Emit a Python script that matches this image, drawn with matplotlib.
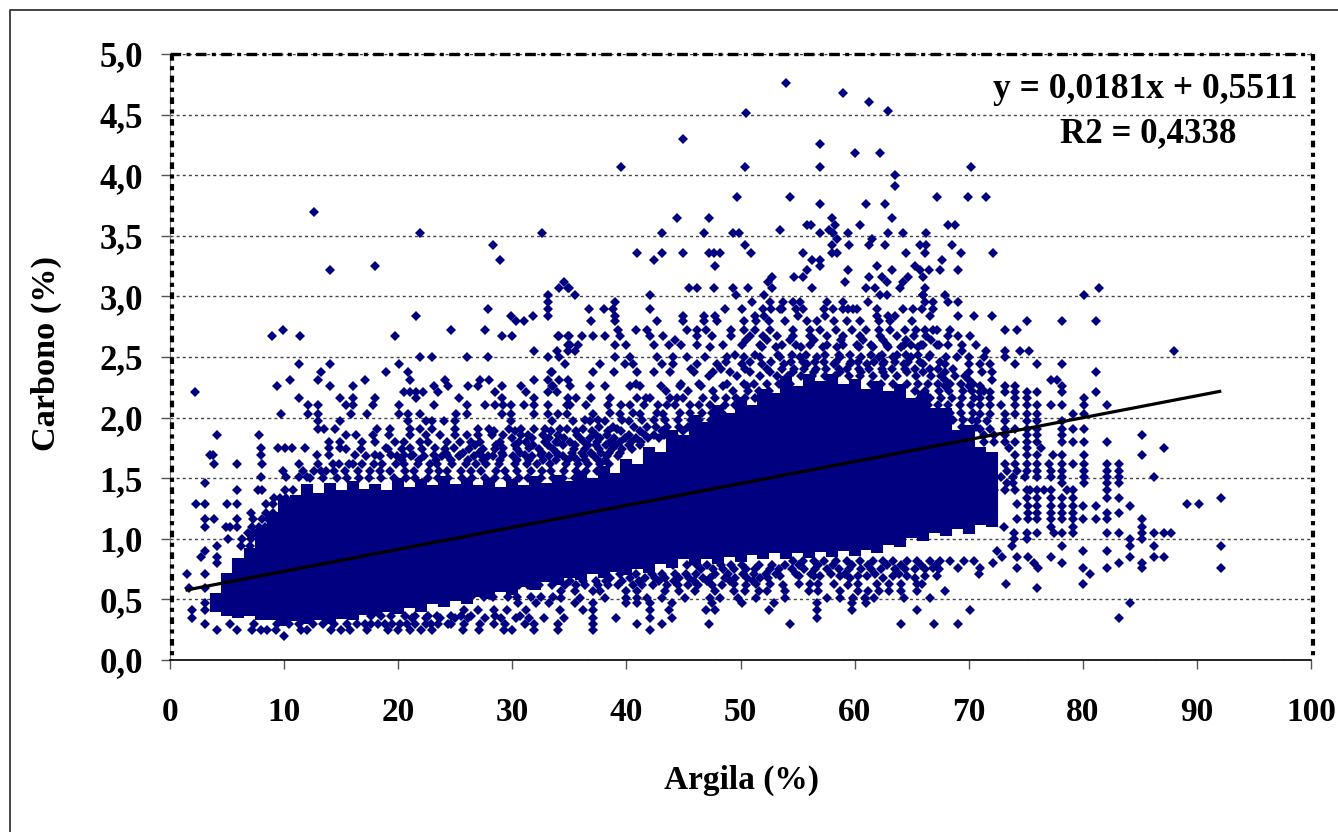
# coding: utf-8
import matplotlib
matplotlib.use("Agg")
import matplotlib.pyplot as plt
from matplotlib.lines import Line2D

# values
x_ticks = [0, 10, 20, 30, 40, 50, 60, 70, 80, 90, 100]
y_ticks = [0.0, 0.5, 1.0, 1.5, 2.0, 2.5, 3.0, 3.5, 4.0, 4.5, 5.0]
y_labels = ["0,0", "0,5", "1,0", "1,5", "2,0", "2,5", "3,0", "3,5", "4,0", "4,5", "5,0"]

slope = 0.0181
intercept = 0.5511
trend_x = [1.5, 92.0]

# the mass of overlapping points is too dense to pick apart,
# so it is kept as the solid low/high range seen at each clay value
core_clay = list(range(4, 73))
core_low = [.40, .36, .35, .36, .33, .33, .28, .32, .30, .33, .30, .34, .33, .37, .36, .40, .38, .43, .40, .46,
            .44, .49, .46, .52, .50, .56, .54, .60, .58, .64, .62, .68, .66, .71, .68, .73, .70, .75, .72, .79,
            .76, .83, .78, .83, .79, .85, .81, .87, .83, .88, .83, .88, .84, .89, .85, .90, .86, .91, .88, .95,
            .93, 1.01, .98, 1.05, 1.02, 1.08, 1.04, 1.11, 1.10]
core_high = [.55, .72, .84, .92, 1.08, 1.22, 1.33, 1.36, 1.45, 1.38, 1.46, 1.40, 1.48, 1.41, 1.45, 1.40, 1.50, 1.43, 1.49, 1.44,
             1.52, 1.45, 1.50, 1.44, 1.50, 1.43, 1.49, 1.44, 1.52, 1.46, 1.53, 1.48, 1.56, 1.50, 1.60, 1.54, 1.66, 1.62, 1.76, 1.72,
             1.90, 1.86, 2.02, 1.96, 2.10, 2.04, 2.17, 2.10, 2.24, 2.20, 2.34, 2.26, 2.36, 2.30, 2.36, 2.28, 2.32, 2.24, 2.30, 2.22,
             2.28, 2.16, 2.22, 2.08, 2.08, 1.90, 1.94, 1.76, 1.72]

# scattered points above the mass: carbon value, then the clay values on that row
upper_rows = [
    (4.76, [54.0]), (4.68, [59.0]), (4.60, [61.3]), (4.53, [62.9]), (4.51, [50.5]), (4.30, [45.0]), (4.26, [57.0]),
    (4.18, [60.0, 62.2]), (4.07, [39.5, 50.4, 57.0, 70.2]), (4.00, [63.5]), (3.91, [63.5]),
    (3.82, [49.7, 54.3, 67.2, 69.9, 71.5]), (3.76, [57.0, 61.0, 62.7]), (3.70, [12.6]), (3.65, [44.4, 47.2, 58.0, 63.3]),
    (3.59, [55.8, 56.2, 58.3, 60.5, 68.2, 68.8]), (3.55, [53.5, 57.8]),
    (3.52, [21.9, 32.6, 43.1, 46.8, 49.3, 49.9, 57.0, 58.1, 59.4, 62.9, 64.2, 66.3]),
    (3.47, [61.5, 58.5]), (3.42, [28.3, 50.4, 58.0, 59.5, 61.3, 62.7, 65.7, 66.3, 68.5]),
    (3.36, [40.9, 43.1, 45.0, 47.2, 47.7, 48.2, 50.9, 55.5, 58.0, 58.5, 64.5, 66.2, 69.3, 72.1]),
    (3.30, [28.9, 42.4, 56.3, 57.0, 67.7]), (3.25, [18.0, 47.8, 57.0, 62.0, 65.3]), (3.22, [14.0, 55.8, 59.4, 63.3, 65.7, 66.5, 69.1, 67.5]),
    (3.16, [52.8, 54.7, 55.5, 61.3, 62.4, 64.7, 66.0]), (3.12, [34.5, 52.4, 59.2, 62.8, 64.2]),
    (3.07, [34.1, 34.9, 35.0, 45.5, 46.2, 47.7, 49.3, 50.7, 52.8, 56.3, 61.0, 61.8, 64.0, 66.2, 81.4]),
    (3.01, [33.1, 35.5, 42.1, 49.6, 52.1, 62.2, 62.8, 66.0, 67.9, 80.1, 66.0]),
    (2.95, [33.1, 39.0, 51.0, 52.6, 53.7, 54.6, 55.2, 57.6, 59.0, 61.2, 66.2, 66.9, 68.2, 69.1]),
    (2.90, [27.9, 33.1, 36.7, 38.0, 38.8, 42.1, 48.6, 50.1, 52.0, 52.7, 53.5, 53.6, 54.9, 55.5, 57.3, 58.1, 59.0, 59.4, 59.9, 60.2, 62.0, 64.2, 65.1, 65.9, 66.9]),
    (2.84, [21.6, 29.9, 31.8, 33.1, 39.0, 45.0, 46.8, 47.8, 51.3, 52.1, 55.0, 57.4, 62.0, 62.9, 63.5, 66.6, 69.1, 70.5, 72.0]),
    (2.80, [30.3, 31.0, 36.9, 39.0, 42.7, 45.0, 46.8, 47.9, 50.3, 51.4, 52.5, 53.9, 55.8, 56.7, 58.2, 59.3, 60.5, 62.1, 63.1, 65.0, 75.1, 78.2, 81.2]),
    (2.72, [9.9, 24.6, 27.6, 39.3, 40.8, 41.8, 45.3, 46.2, 47.0, 49.2, 50.3, 51.3, 52.6, 54.6, 56.1, 57.0, 58.4, 59.8, 61.0, 62.1, 63.1, 64.4, 66.9, 73.2, 74.2, 65.4, 66.2, 67.2, 68.4]),
    (2.67, [8.9, 11.4, 19.7, 29.1, 30.0, 34.0, 34.1, 34.9, 35.0, 36.1, 37.1, 38.1, 39.4, 42.1, 43.2, 46.2, 47.5, 49.2, 50.8, 52.0, 53.2, 54.6, 56.1, 57.6, 59.0, 60.5, 62.2, 63.7, 65.2, 66.3, 68.2, 69.1, 70.1]),
    (2.60, [34.9, 35.1, 35.8, 39.0, 40.0, 42.4, 43.7, 44.8, 46.2, 48.5, 50.1, 51.7, 53.6, 54.9, 56.1, 57.6, 59.0, 60.2, 61.4, 62.8, 64.3, 64.9, 66.0, 67.2, 68.2, 69.4, 70.6, 65.8, 67.4]),
    (2.55, [31.9, 33.9, 34.9, 35.5, 71.5, 69.4, 73.2, 75.3, 74.5, 88.0]),
    (2.50, [21.9, 23.0, 26.0, 27.9, 33.1, 34.1, 39.0, 40.3, 42.7, 44.1, 45.3, 46.9, 48.8, 50.3, 51.7, 53.5, 55.2, 56.7, 58.7, 60.6, 62.1, 63.4, 64.9, 66.5, 68.0, 69.0, 70.0, 71.3, 73.2]),
    (2.44, [11.3, 14.0, 20.1, 34.6, 37.7, 39.9, 40.6, 43.1, 44.1, 46.2, 47.9, 50.1, 51.9, 53.8, 55.8, 58.2, 59.6, 61.1, 62.5, 64.3, 66.0, 67.9, 70.0, 71.0, 71.9, 74.1, 76.0, 78.2]),
    (2.38, [13.2, 18.9, 20.9, 33.5, 33.4, 37.1, 38.9, 40.9, 42.4, 43.8, 45.9, 47.6, 49.1, 50.8, 52.6, 54.6, 56.4, 58.7, 60.6, 62.5, 64.6, 66.0, 67.9, 70.0, 71.2, 72.0, 81.2]),
    (2.31, [10.5, 13.0, 17.1, 21.0, 24.1, 27.2, 28.0, 31.9, 33.1, 34.1, 34.9, 72.0, 70.0, 67.9, 77.2, 77.7]),
    (2.26, [9.4, 14.0, 16.0, 23.1, 24.4, 26.1, 27.0, 29.1, 30.8, 33.5, 33.6, 35.1, 36.8, 38.1, 40.3, 41.2, 43.0, 44.7, 46.5, 48.5, 50.6, 67.9, 70.0, 71.0, 73.2, 74.1, 78.2]),
    (2.21, [2.2, 20.5, 21.0, 21.6, 22.2, 23.5, 28.5, 31.2, 33.1, 33.9, 71.0, 71.9, 73.2, 74.1, 75.1, 76.0, 78.2, 81.2]),
    (2.16, [11.3, 14.9, 16.0, 18.0, 21.6, 25.3, 29.1, 31.9, 34.9, 35.6, 36.9, 38.6, 40.9, 42.1, 43.8, 45.0, 71.0, 71.9, 74.1, 75.1, 80.1]),
    (2.10, [12.1, 13.0, 15.4, 16.0, 17.8, 20.1, 23.1, 26.0, 27.6, 28.5, 29.2, 29.9, 31.0, 31.9, 33.1, 34.8, 35.1, 36.5, 38.4, 40.3, 42.8, 44.3, 45.6, 71.0, 71.9, 72.8, 74.1, 75.1, 76.0, 77.2, 78.2, 80.1, 82.1]),
    (2.03, [9.7, 12.1, 13.0, 15.9, 17.3, 20.1, 20.9, 21.9, 25.1, 26.0, 29.1, 29.9, 31.9, 33.1, 34.0, 34.8, 37.1, 39.4, 41.2, 43.2, 71.0, 71.9, 73.2, 74.1, 75.1, 76.0, 79.1, 80.1]),
    (1.97, [13.0, 14.9, 20.9, 22.4, 23.0, 24.0, 25.0, 29.9, 33.5, 35.3, 36.8, 38.1, 40.2, 70.7, 71.6, 73.2, 75.1, 76.0, 78.2]),
    (1.91, [13.0, 13.5, 14.5, 18.1, 19.3, 21.0, 21.9, 23.0, 25.0, 27.0, 28.0, 29.7, 30.8, 31.9, 32.9, 34.8, 34.2, 36.2, 39.2, 71.0, 71.9, 73.2, 74.1, 75.1, 76.0, 78.2, 79.1, 80.1]),
    (1.86, [4.15, 7.8, 16.3, 15.4, 17.8, 19.2, 21.0, 23.7, 25.0, 26.0, 27.0, 29.2, 30.8, 32.7, 34.0, 85.2, 71.3, 72.2, 73.2, 75.1, 76.0, 78.2]),
    (1.80, [13.9, 14.9, 18.0, 19.7, 20.5, 21.9, 24.3, 25.4, 27.2, 28.9, 32.9, 34.0, 71.3, 72.2, 73.2, 74.1, 75.1, 76.0, 78.2, 79.1, 80.1, 82.1]),
    (1.75, [8.0, 9.5, 10.1, 10.7, 11.8, 13.9, 14.9, 18.9, 21.0, 23.2, 24.9, 29.2, 31.5, 76.3, 75.1, 73.5, 87.1]),
    (1.69, [3.5, 3.8, 8.0, 12.9, 13.9, 16.2, 18.0, 19.4, 20.5, 21.3, 23.1, 24.3, 25.4, 27.3, 29.2, 31.1, 32.5, 34.0, 74.1, 75.1, 76.0, 78.2, 80.1, 85.2, 77.4]),
    (1.62, [3.9, 5.9, 8.1, 11.3, 13.0, 14.3, 16.0, 73.2, 74.1, 75.1, 76.0, 77.0, 78.2, 79.1, 80.1, 82.1, 83.2]),
    (1.56, [9.9, 11.7, 12.6, 13.7, 73.4, 74.2, 75.1, 76.0, 77.2, 78.2, 80.1, 82.1, 83.2]),
    (1.51, [8.0, 10.2, 11.3, 12.0, 71.9, 72.8, 73.9, 74.9, 76.0, 77.2, 78.2, 80.1, 83.2, 86.2, 82.1]),
    (1.46, [3.1, 73.4, 73.9, 78.2, 80.1, 83.2, 82.1]),
    (1.40, [5.9, 7.7, 8.1, 10.1, 10.8, 72.2, 73.2, 74.1, 75.1, 75.4, 76.0, 76.6, 77.2, 78.6, 79.1, 82.1]),
    (1.34, [9.1, 9.6, 10.2, 75.1, 76.0, 77.2, 78.2, 79.1, 82.1, 92.1, 83.2]),
    (1.29, [2.3, 3.1, 5.0, 5.9, 8.4, 9.0, 89.1, 90.2, 74.2]),
    (1.27, [75.2, 76.0, 77.2, 78.2, 79.1, 80.0, 81.2, 84.1]),
    (1.21, [7.1, 8.4, 9.0, 82.1, 83.2, 75.2, 76.0, 77.2, 78.2, 79.1]),
    (1.16, [3.1, 3.9, 5.9, 7.3, 8.1, 8.6, 74.2, 75.2, 76.0, 77.2, 78.2, 79.1, 80.0, 81.2, 82.1, 85.2]),
    (1.10, [3.1, 4.9, 5.3, 5.9, 7.2, 7.8, 8.3, 77.2, 79.1, 73.1, 85.2]),
    (1.05, [6.8, 7.4, 75.1, 76.0, 77.5, 78.2, 79.1, 82.1, 83.2, 85.2, 86.2, 87.1, 87.7, 74.0]),
]

# the textured band between the solid mass and the scattered points
fringe_rows = [
    (2.64, [44.3, 50.5, 52.3, 54.3, 56.4, 58.8, 60.7, 62.5, 64.5, 66.7]),
    (2.58, [47.3, 51.9, 53.1, 55.3, 57.2, 58.5, 60.4, 61.6, 62.9, 64.1, 65.6]),
    (2.52, [49.5, 51.3, 53.3, 54.5, 55.7, 57.4, 58.6, 59.6, 61.4, 62.4, 63.7, 64.5, 65.6, 66.6]),
    (2.46, [48.7, 50.8, 52.7, 54.4, 55.5, 56.5, 57.3, 58.4, 59.7, 60.3, 61.7, 62.6, 63.5, 64.7, 65.7, 67.5]),
    (2.40, [45.7, 48.3, 50.4, 52.3, 53.6, 54.7, 55.6, 56.6, 57.5, 58.6, 59.3, 60.4, 61.3, 62.4, 63.3, 64.4, 65.3, 66.6, 67.3, 68.6]),
    (2.34, [47.2, 49.7, 51.7, 53.2, 54.2, 55.3, 56.3, 57.4, 58.3, 59.5, 60.5, 61.6, 62.7, 63.7, 65.4, 66.7, 67.6, 68.8, 69.7]),
    (2.28, [40.8, 44.8, 46.4, 48.8, 50.3, 51.2, 52.3, 53.4, 54.3, 61.4, 62.3, 63.4, 64.6, 65.6, 66.4, 67.3, 68.4, 69.3, 70.4]),
    (2.22, [43.5, 45.4, 47.6, 49.3, 50.7, 51.6, 52.5, 65.3, 66.2, 67.4, 68.3, 69.5, 70.3, 71.3]),
    (2.16, [41.7, 44.4, 46.7, 47.8, 48.7, 49.6, 50.4, 51.3, 65.7, 66.6, 67.6, 68.5, 69.4, 70.5]),
    (2.10, [39.5, 41.5, 43.6, 46.4, 47.3, 48.6, 49.5, 66.4, 67.3, 68.2, 69.2, 70.2]),
    (2.04, [38.6, 40.6, 42.7, 44.7, 45.6, 46.6, 47.5, 48.4, 67.5, 68.4, 69.3, 70.4]),
    (1.98, [36.4, 37.5, 39.6, 41.4, 42.4, 43.4, 44.5, 45.7, 46.4, 47.4, 68.6, 69.5, 70.3]),
    (1.92, [37.6, 38.8, 40.7, 41.8, 42.6, 43.6, 44.6, 45.4, 69.4, 70.6]),
    (1.89, [28.4, 30.2, 33.4, 35.6, 37.0, 38.4, 39.5, 41.2, 43.1, 45.0]),
    (1.86, [22.4, 28.2, 31.4, 35.7, 37.3, 38.3, 40.2, 41.6, 42.4, 43.3, 44.2]),
    (1.83, [30.0, 31.7, 33.2, 34.5, 35.9, 36.8, 37.7, 38.9, 39.9, 40.8, 41.9, 42.9, 43.8]),
    (1.80, [16.8, 22.6, 26.4, 30.6, 31.2, 33.8, 35.1, 36.3, 37.4, 38.6, 39.4, 40.4, 41.3]),
    (1.77, [26.7, 28.6, 30.2, 31.8, 33.1, 34.4, 35.5, 36.6, 37.3, 38.2, 39.1, 40.2, 41.2]),
    (1.74, [15.4, 16.7, 19.1, 20.3, 22.1, 24.1, 26.2, 27.4, 28.5, 30.4, 32.3, 33.6, 35.4, 36.4, 37.6, 38.7, 39.6, 40.5]),
    (1.71, [24.2, 25.7, 27.1, 29.1, 30.7, 32.6, 33.9, 35.2, 36.1, 36.9, 37.8, 38.5, 39.4]),
    (1.68, [17.2, 18.4, 19.9, 21.1, 22.3, 23.8, 25.3, 26.6, 27.9, 28.3, 30.1, 31.7, 33.2, 34.4, 35.3, 36.3, 37.2, 38.3, 39.3]),
    (1.65, [20.3, 21.8, 23.3, 24.6, 26.1, 27.4, 28.9, 30.4, 31.5, 32.7, 33.8, 34.9, 35.7, 36.4, 37.5, 38.1]),
    (1.62, [14.8, 15.7, 16.8, 17.9, 18.6, 19.8, 20.5, 21.7, 22.8, 23.4, 24.7, 25.9, 26.8, 27.7, 28.8, 30.2, 31.3, 32.2, 33.3, 34.7, 35.8, 36.6, 37.7, 38.5]),
    (1.56, [13.2, 14.4, 15.3, 16.5, 17.5, 18.4, 19.3, 20.6, 21.4, 22.7, 23.6, 24.3, 25.5, 26.4, 27.3, 28.6, 29.4, 30.4, 31.6, 32.6, 33.4, 34.5, 35.6, 36.5, 37.4]),
    (1.50, [12.3, 13.4, 14.6, 15.5, 16.6, 17.4, 18.5, 19.6, 20.7, 21.5, 22.6, 23.5, 24.4, 25.6, 26.5, 27.6, 28.5, 29.5, 30.6, 31.4, 32.5, 33.6, 34.4, 35.5]),
    (0.82, [54.6, 55.5, 56.4, 57.3, 58.4, 59.3, 60.5, 61.6, 62.5, 63.4, 64.6, 65.5, 66.6, 67.5, 68.4, 69.6, 70.5]),
    (0.78, [44.1, 45.3, 46.2, 47.1, 48.3, 49.2, 50.1, 51.6, 52.8, 53.9, 55.1, 56.8, 58.1, 59.8, 61.2, 62.8, 64.1, 65.8, 67.1]),
    (0.75, [46.5, 47.6, 48.5, 49.4, 50.5, 51.3, 52.6, 53.4, 54.5, 55.6, 56.5, 57.6, 58.6, 59.5, 60.6, 61.4, 62.3, 63.5, 64.4, 65.3, 66.2, 67.4]),
    (0.71, [39.4, 40.8, 42.2, 43.1, 44.3, 45.2, 46.1, 47.8, 48.9, 50.2, 51.2, 52.2, 53.1, 54.9, 56.2, 57.9, 59.2, 61.8, 63.9]),
    (0.68, [38.6, 40.3, 41.6, 42.5, 43.4, 44.6, 45.5, 46.7, 47.3, 48.6, 49.5, 50.6, 51.7, 52.4, 59.6, 62.5, 65.3]),
    (0.65, [33.6, 35.1, 36.2, 37.3, 38.2, 39.6, 41.1, 42.9, 44.2, 45.9, 47.1, 49.1, 51.1]),
    (0.62, [29.2, 30.6, 31.4, 32.3, 33.5, 34.6, 35.6, 36.4, 37.5, 38.4, 39.3, 40.6, 41.4, 42.3, 43.6, 44.5, 45.4, 46.3, 47.5, 48.4, 50.5, 53.7, 59.4]),
    (0.52, [26.4, 27.5, 28.3, 29.6, 30.4, 31.6, 32.5, 33.6]),
    (0.36, [17.6, 18.5, 19.4, 20.6, 21.5, 22.6, 23.4, 24.6, 25.5, 26.4, 28.5, 30.7]),
    (0.30, [10.4, 11.3, 12.5, 13.4, 14.4, 15.5, 16.4, 17.1, 18.2, 19.5, 20.2, 21.5, 22.4, 23.5, 24.4]),
]

# scattered points below the mass
lower_rows = [
    (1.00, [5.1, 6.3, 7.1, 84.1, 85.2, 75.1, 74.0]), (0.94, [6.2, 7.0, 78.2, 84.1, 86.2, 92.1, 73.8, 4.15]), (0.90, [80.0, 82.1, 3.1, 72.5]),
    (0.85, [2.7, 4.15, 87.1, 84.1, 72.9, 74.2, 75.2, 77.2, 86.2]), (0.80, [4.15, 72.1, 75.7, 78.2, 83.2, 85.2]),
    (0.76, [92.1, 85.2, 80.0, 74.2, 76.1, 82.1, 66.9, 69.1, 71.0]), (0.71, [1.5, 3.1, 80.6, 70.9]),
    (0.69, [53.5, 55.1, 56.4, 57.0, 58.7, 60.3, 61.1, 63.4, 64.6, 66.2, 67.2]),
    (0.63, [49.4, 51.4, 52.6, 55.1, 56.1, 56.8, 58.2, 60.3, 62.0, 63.0, 64.1, 65.5, 65.9, 73.3, 80.0]),
    (0.59, [1.7, 3.1, 76.0]),
    (0.57, [34.3, 35.5, 37.1, 37.7, 40.0, 40.9, 43.4, 44.6, 46.0, 47.8, 49.4, 50.4, 51.6, 52.3, 53.9, 56.0, 56.8, 58.7, 60.3, 61.2, 62.1, 63.0, 64.1, 65.5, 67.9]),
    (0.51, [34.3, 35.9, 38.1, 40.0, 40.9, 41.8, 43.1, 45.1, 47.3, 48.2, 49.8, 51.4, 53.9, 57.6, 58.7, 59.9, 60.9, 61.7, 64.3, 66.6]),
    (0.47, [3.1, 30.5, 32.1, 33.2, 35.5, 37.1, 40.0, 40.9, 42.1, 44.0, 47.5, 50.1, 52.9, 56.7, 59.8, 61.0, 84.1]),
    (0.41, [1.9, 3.1, 25.8, 27.0, 28.4, 29.5, 31.2, 34.2, 36.2, 37.1, 42.1, 43.7, 47.0, 47.8, 52.5, 56.7, 59.8, 65.5, 70.1]),
    (0.35, [1.9, 21.2, 22.4, 23.7, 25.0, 26.1, 27.6, 29.0, 30.3, 31.5, 32.8, 34.5, 37.1, 39.1, 42.1, 44.0, 56.7, 83.2]),
    (0.30, [3.1, 5.3, 7.4, 9.4, 17.6, 18.8, 20.8, 22.9, 24.6, 25.8, 27.2, 28.4, 29.4, 31.1, 31.9, 34.0, 37.1, 40.9, 43.1, 47.2, 54.3, 64.1, 67.0, 69.1]),
    (0.25, [4.1, 5.9, 7.2, 8.0, 8.5, 9.3, 11.5, 12.0, 14.1, 15.0, 15.8, 17.3, 19.1, 20.0, 21.0, 22.0, 23.0, 25.7, 27.1, 29.3, 30.0, 31.9, 34.0, 37.1, 42.1]),
    (0.20, [10.0]),
]

navy = "#000080"


def main():
    fig = plt.figure(figsize=(13.38, 8.32), dpi=100)
    plt.rcParams["font.family"] = ["Liberation Serif", "DejaVu Serif"]
    ax = fig.add_axes([170 / 1338, 1 - 660 / 832, 1141 / 1338, 606 / 832])

    # outer chart frame, open at right and bottom
    fig.add_artist(Line2D([9.5 / 1338, 9.5 / 1338, 1], [0, 1 - 9.5 / 832, 1 - 9.5 / 832],
                          color="#444444", lw=1.4, transform=fig.transFigure))

    ax.vlines(core_clay, core_low, core_high, color=navy, lw=8.7, zorder=2)

    for rows in (upper_rows, fringe_rows, lower_rows):
        px = [x for y, xs in rows for x in xs]
        py = [y for y, xs in rows for x in xs]
        ax.plot(px, py, ls="none", marker="D", ms=4.7, mew=0, color=navy, zorder=2.5)

    trend_y = [slope * x + intercept for x in trend_x]
    ax.plot(trend_x, trend_y, color="black", lw=2.3, zorder=3)

    ax.set_xlim(0, 100)
    ax.set_ylim(0, 5)
    ax.set_xticks(x_ticks)
    ax.set_yticks(y_ticks)
    ax.set_yticklabels(y_labels)
    ax.tick_params(axis="x", length=6.5, width=1, color="#555555", pad=20, labelsize=24)
    ax.tick_params(axis="y", length=6.5, width=1, color="#555555", pad=13, labelsize=25)
    for lab in ax.get_xticklabels() + ax.get_yticklabels():
        lab.set_fontweight("bold")

    ax.grid(True, axis="y", color="#444444", lw=1, ls=(0, (2.2, 2.2)), zorder=1)
    ax.set_axisbelow(True)

    # plot area border: solid axes plus the heavy dash-dot frame
    for name in ("top", "right"):
        ax.spines[name].set_visible(False)
    ax.spines["left"].set_color("#777777")
    ax.spines["bottom"].set_color("black")
    ax.spines["bottom"].set_linewidth(1.2)
    ax.plot([0, 1], [1, 1], transform=ax.transAxes, color="black", lw=2.4, clip_on=False,
            ls=(0, (3.2, 1.6, 1.2, 1.6)), zorder=4)
    ax.plot([0.0015, 0.0015], [1, 0], transform=ax.transAxes, color="black", lw=3, clip_on=False,
            ls=(0, (1.6, 1.3, 1.0, 1.3)), zorder=4)
    ax.plot([1.002, 1.002], [1, 0], transform=ax.transAxes, color="black", lw=3, clip_on=False,
            ls=(0, (1.6, 1.3, 1.0, 1.3)), zorder=4)

    fig.text(46 / 1338, 1 - 354 / 832, "Carbono (%)", rotation=90, ha="center", va="center",
             fontsize=24.7, fontweight="bold")
    fig.text(741 / 1338, 1 - 780 / 832, "Argila (%)", ha="center", va="center",
             fontsize=24, fontweight="bold")
    fig.text(1145 / 1338, 1 - 89 / 832, "y = 0,0181x + 0,5511", ha="center", va="center",
             fontsize=25.5, fontweight="bold")
    fig.text(1148 / 1338, 1 - 134 / 832, "R2 = 0,4338", ha="center", va="center",
             fontsize=25.1, fontweight="bold")

    fig.savefig("out.png", dpi=100)


if __name__ == '__main__':
    main()
